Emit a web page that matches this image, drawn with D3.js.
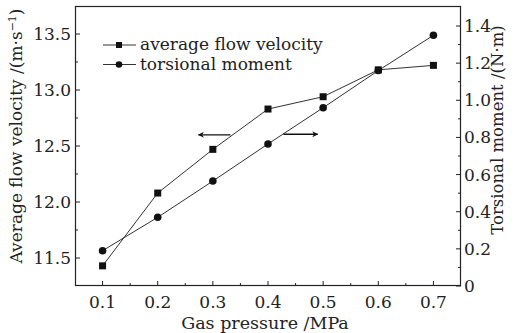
<!DOCTYPE html>
<html>
<head>
<meta charset="utf-8">
<script src="https://cdn.jsdelivr.net/npm/d3@7"></script>
<style>
  body { margin: 0; background: #fff; }
  svg { display: block; font-family: 'DejaVu Serif', serif; }
</style>
</head>
<body>
<script>
const w = 514
const h = 333
const margin = { top: 6, right: 53, bottom: 47, left: 75 }

// data
const pressure = [0.1, 0.2, 0.3, 0.4, 0.5, 0.6, 0.7]
const velocity = [11.43, 12.08, 12.47, 12.83, 12.94, 13.18, 13.22]
const torque = [0.19, 0.37, 0.565, 0.765, 0.96, 1.16, 1.35]
const xTicks = [0.1, 0.2, 0.3, 0.4, 0.5, 0.6, 0.7]
const yLeftTicks = [11.5, 12.0, 12.5, 13.0, 13.5]
const yRightTicks = [0, 0.2, 0.4, 0.6, 0.8, 1.0, 1.2, 1.4]

const svg = d3.select('body').append('svg')
  .attr('width', w)
  .attr('height', h)

const x = d3.scaleLinear().domain([0.05, 0.75]).range([margin.left, w - margin.right])
const yL = d3.scaleLinear().domain([11.25, 13.75]).range([h - margin.bottom, margin.top])
const yR = d3.scaleLinear().domain([0, 1.5077]).range([h - margin.bottom, margin.top])

const x0 = margin.left
const x1 = w - margin.right
const y0 = h - margin.bottom
const y1 = margin.top

// minor ticks
const xMinor = d3.range(0.15, 0.75, 0.1)
const yLMinor = [11.75, 12.25, 12.75, 13.25]
const yRMinor = d3.range(0.1, 1.5, 0.2).map(d => +d.toFixed(2))

const ticks = svg.append('g').attr('stroke', '#222').attr('stroke-width', 1)
ticks.selectAll('.xt').data(xTicks).enter().append('line')
  .attr('x1', d => x(d)).attr('x2', d => x(d)).attr('y1', y0).attr('y2', y0 - 5)
ticks.selectAll('.xm').data(xMinor).enter().append('line')
  .attr('x1', d => x(d)).attr('x2', d => x(d)).attr('y1', y0).attr('y2', y0 - 3)
ticks.selectAll('.yl').data(yLeftTicks).enter().append('line')
  .attr('x1', x0).attr('x2', x0 + 5).attr('y1', d => yL(d)).attr('y2', d => yL(d))
ticks.selectAll('.ylm').data(yLMinor).enter().append('line')
  .attr('x1', x0).attr('x2', x0 + 3).attr('y1', d => yL(d)).attr('y2', d => yL(d))
ticks.selectAll('.yr').data(yRightTicks).enter().append('line')
  .attr('x1', x1).attr('x2', x1 - 5).attr('y1', d => yR(d)).attr('y2', d => yR(d))
ticks.selectAll('.yrm').data(yRMinor).enter().append('line')
  .attr('x1', x1).attr('x2', x1 - 3).attr('y1', d => yR(d)).attr('y2', d => yR(d))

// frame
svg.append('rect')
  .attr('x', x0 + 0.5).attr('y', y1 + 0.5)
  .attr('width', x1 - x0 - 1).attr('height', y0 - y1 - 1)
  .attr('fill', 'none').attr('stroke', '#222').attr('stroke-width', 1.2)

// tick labels
const lab = svg.append('g').attr('font-size', 17).attr('fill', '#222')
lab.selectAll('.xl').data(xTicks).enter().append('text')
  .attr('x', d => x(d)).attr('y', y0 + 22).attr('text-anchor', 'middle')
  .text(d => d.toFixed(1))
lab.selectAll('.yll').data(yLeftTicks).enter().append('text')
  .attr('x', x0 - 4).attr('y', d => yL(d) + 6).attr('text-anchor', 'end')
  .text(d => d.toFixed(1))
lab.selectAll('.yrl').data(yRightTicks).enter().append('text')
  .attr('x', x1 + 3).attr('y', d => yR(d) + 6).attr('text-anchor', 'start')
  .text(d => d === 0 ? '0' : d.toFixed(1))

// axis titles
svg.append('text')
  .attr('x', 265).attr('y', 329).attr('text-anchor', 'middle')
  .attr('font-size', 17.5).attr('fill', '#222')
  .text('Gas pressure /MPa')

const tl = svg.append('text')
  .attr('transform', 'translate(22,136) rotate(-90)')
  .attr('text-anchor', 'middle').attr('font-size', 17).attr('fill', '#222')
tl.append('tspan').text('Average flow velocity /(m\u00b7s')
tl.append('tspan').attr('dy', -6).attr('font-size', 11).text('\u22121')
tl.append('tspan').attr('dy', 6).text(')')

svg.append('text')
  .attr('transform', 'translate(503,130) rotate(-90)')
  .attr('text-anchor', 'middle').attr('font-size', 16.5).attr('fill', '#222')
  .text('Torsional moment /(N\u00b7m)')

// lines
const lineV = d3.line().x((d, i) => x(pressure[i])).y(d => yL(d))
const lineT = d3.line().x((d, i) => x(pressure[i])).y(d => yR(d))

svg.append('path').attr('d', lineV(velocity))
  .attr('fill', 'none').attr('stroke', '#333').attr('stroke-width', 1)
svg.append('path').attr('d', lineT(torque))
  .attr('fill', 'none').attr('stroke', '#333').attr('stroke-width', 1)

svg.selectAll('.sq').data(velocity).enter().append('rect')
  .attr('x', (d, i) => x(pressure[i]) - 3.5).attr('y', d => yL(d) - 3.5)
  .attr('width', 7).attr('height', 7).attr('fill', '#111')
svg.selectAll('.ci').data(torque).enter().append('circle')
  .attr('cx', (d, i) => x(pressure[i])).attr('cy', d => yR(d))
  .attr('r', 3.8).attr('fill', '#111')

// arrows
svg.append('defs').append('marker')
  .attr('id', 'ah').attr('viewBox', '0 0 10 10').attr('refX', 9).attr('refY', 5)
  .attr('markerWidth', 10).attr('markerHeight', 6).attr('orient', 'auto')
  .attr('markerUnits', 'userSpaceOnUse')
  .append('path').attr('d', 'M0,0 L10,5 L0,10 L3,5 Z').attr('fill', '#111')

svg.append('line')
  .attr('x1', x(0.332)).attr('x2', x(0.274)).attr('y1', yL(12.6)).attr('y2', yL(12.6))
  .attr('stroke', '#111').attr('stroke-width', 1.3).attr('marker-end', 'url(#ah)')
svg.append('line')
  .attr('x1', x(0.428)).attr('x2', x(0.49)).attr('y1', yR(0.817)).attr('y2', yR(0.817))
  .attr('stroke', '#111').attr('stroke-width', 1.3).attr('marker-end', 'url(#ah)')

// legend
const legend = [
  { name: 'average flow velocity', shape: 'square' },
  { name: 'torsional moment', shape: 'circle' }
]
const lg = svg.append('g')
legend.forEach((d, i) => {
  const ly = 45 + i * 19.5
  lg.append('line').attr('x1', 103).attr('x2', 136).attr('y1', ly).attr('y2', ly)
    .attr('stroke', '#333').attr('stroke-width', 1)
  if (d.shape === 'square') {
    lg.append('rect').attr('x', 116).attr('y', ly - 3).attr('width', 6).attr('height', 6).attr('fill', '#111')
  } else {
    lg.append('circle').attr('cx', 119).attr('cy', ly).attr('r', 3.3).attr('fill', '#111')
  }
  lg.append('text').attr('x', 140).attr('y', ly + 5).attr('font-size', 17).attr('fill', '#222')
    .text(d.name)
})
</script>
</body>
</html>
